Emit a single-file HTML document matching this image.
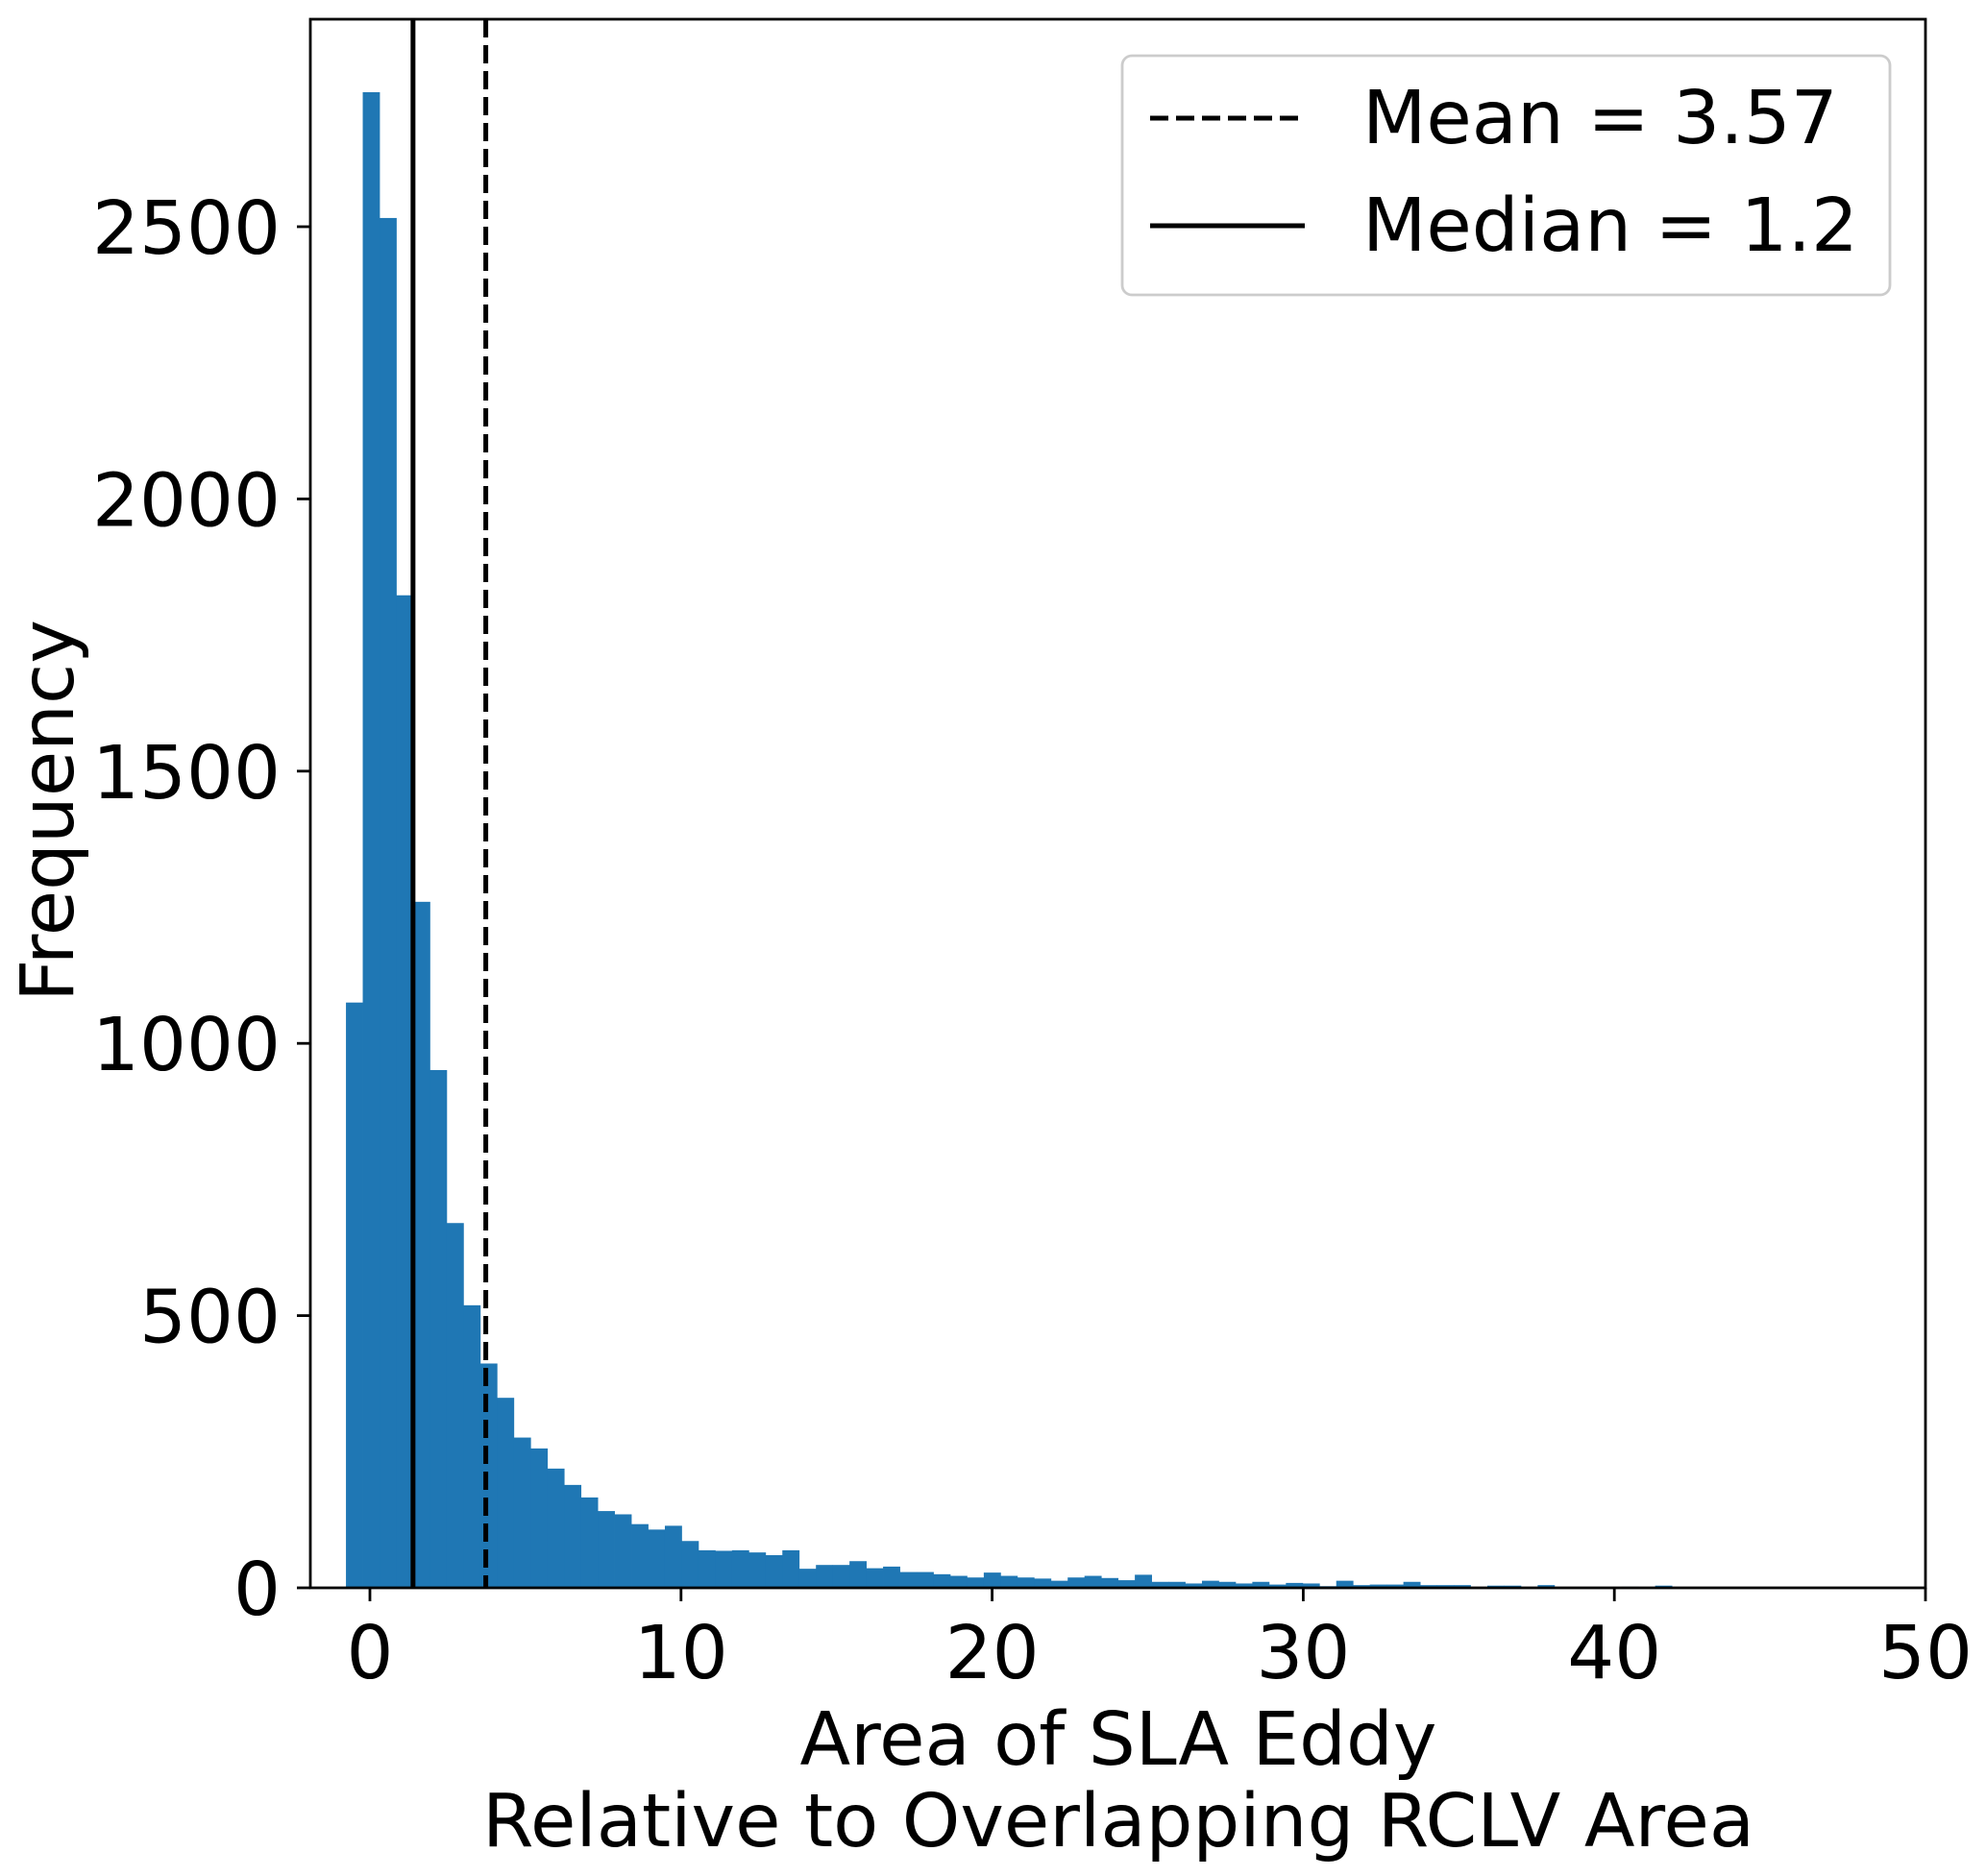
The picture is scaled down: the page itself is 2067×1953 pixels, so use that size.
<!DOCTYPE html>
<html><head><meta charset="utf-8"><style>
html,body{margin:0;padding:0;background:#fff}
svg{display:block}
text{font-family:"DejaVu Sans","Liberation Sans",sans-serif;fill:#000}
</style></head><body>
<svg id="chart" width="2067" height="1953" viewBox="0 0 2067 1953" xmlns="http://www.w3.org/2000/svg">
<g id="bars"></g>
<g id="vlines"></g>
<rect x="323" y="20" width="1681" height="1633" fill="none" stroke="#000" stroke-width="2.8"/>
<g id="xticks"></g>
<g id="yticks"></g>
<text x="1164" y="1837" font-size="77" text-anchor="middle">Area of SLA Eddy</text>
<text x="1164" y="1922" font-size="77" text-anchor="middle">Relative to Overlapping RCLV Area</text>
<text transform="translate(76,844) rotate(-90)" font-size="77" text-anchor="middle">Frequency</text>
<g>
<rect x="1168" y="58" width="799" height="249" rx="10" fill="#fff" fill-opacity="0.8" stroke="#ccc" stroke-width="2.8"/>
<line x1="1197" y1="123" x2="1358" y2="123" stroke="#000" stroke-width="5" stroke-dasharray="19,8"/>
<text x="1418" y="149" font-size="77">Mean = 3.57</text>
<line x1="1197" y1="235" x2="1358" y2="235" stroke="#000" stroke-width="5"/>
<text x="1418" y="261" font-size="77">Median = 1.2</text>
</g>
</svg>
<script>
const binStart = -0.77;
const binWidth = 0.5395;
const counts = [1075,2747,2516,1823,1260,951,670,519,412,349,276,256,219,189,166,141,135,117,107,114,86,69,68,69,65,60,69,35,42,42,49,36,39,29,29,25,22,19,28,22,19,17,13,19,22,18,14,24,11,11,8,13,11,8,11,6,9,8,3,13,5,6,6,11,5,5,5,0,4,4,0,5,0,0,0,0,2,0,4];
const xTicks = [0,10,20,30,40,50];
const yTicks = [0,500,1000,1500,2000,2500];
const meanValue = 3.57;
const medianValue = 1.2;

const NS = "http://www.w3.org/2000/svg";
const X0 = 385, XPU = 32.38, Y0 = 1653, YPC = 0.5668;
const xs = v => X0 + v * XPU;
const ys = v => Y0 - v * YPC;
function mk(tag, attrs, parent){const e=document.createElementNS(NS,tag);for(const k in attrs)e.setAttribute(k,attrs[k]);parent.appendChild(e);return e;}

const bars = document.getElementById('bars');
counts.forEach((c,i)=>{
  if(c<=0) return;
  const x1 = xs(binStart + i*binWidth), x2 = xs(binStart + (i+1)*binWidth);
  const r = mk('rect',{x:x1,y:ys(c),width:x2-x1+0.4,height:Y0-ys(c),fill:'#1f77b4'},bars);
  
  
});

const vl = document.getElementById('vlines');
const med = mk('line',{x1:xs(medianValue)+6,x2:xs(medianValue)+6,y1:20,y2:Y0,stroke:'#000','stroke-width':5},vl);


const mn = mk('line',{x1:xs(meanValue)+5,x2:xs(meanValue)+5,y1:20,y2:Y0,stroke:'#000','stroke-width':5,'stroke-dasharray':'19,8'},vl);



const xg = document.getElementById('xticks');
xTicks.forEach(t=>{
  const tk = mk('line',{x1:xs(t),x2:xs(t),y1:Y0,y2:Y0+14,stroke:'#000','stroke-width':2.8},xg);
  
  
  const tx = mk('text',{x:xs(t),y:1747,'font-size':77,'text-anchor':'middle'},xg);
  tx.textContent = t;
  
  
});
const yg = document.getElementById('yticks');
yTicks.forEach(t=>{
  const tk = mk('line',{x1:309,x2:323,y1:ys(t),y2:ys(t),stroke:'#000','stroke-width':2.8},yg);
  
  
  const tx = mk('text',{x:292,y:ys(t)+28,'font-size':77,'text-anchor':'end'},yg);
  tx.textContent = t;
  
  
});
</script>
</body></html>
